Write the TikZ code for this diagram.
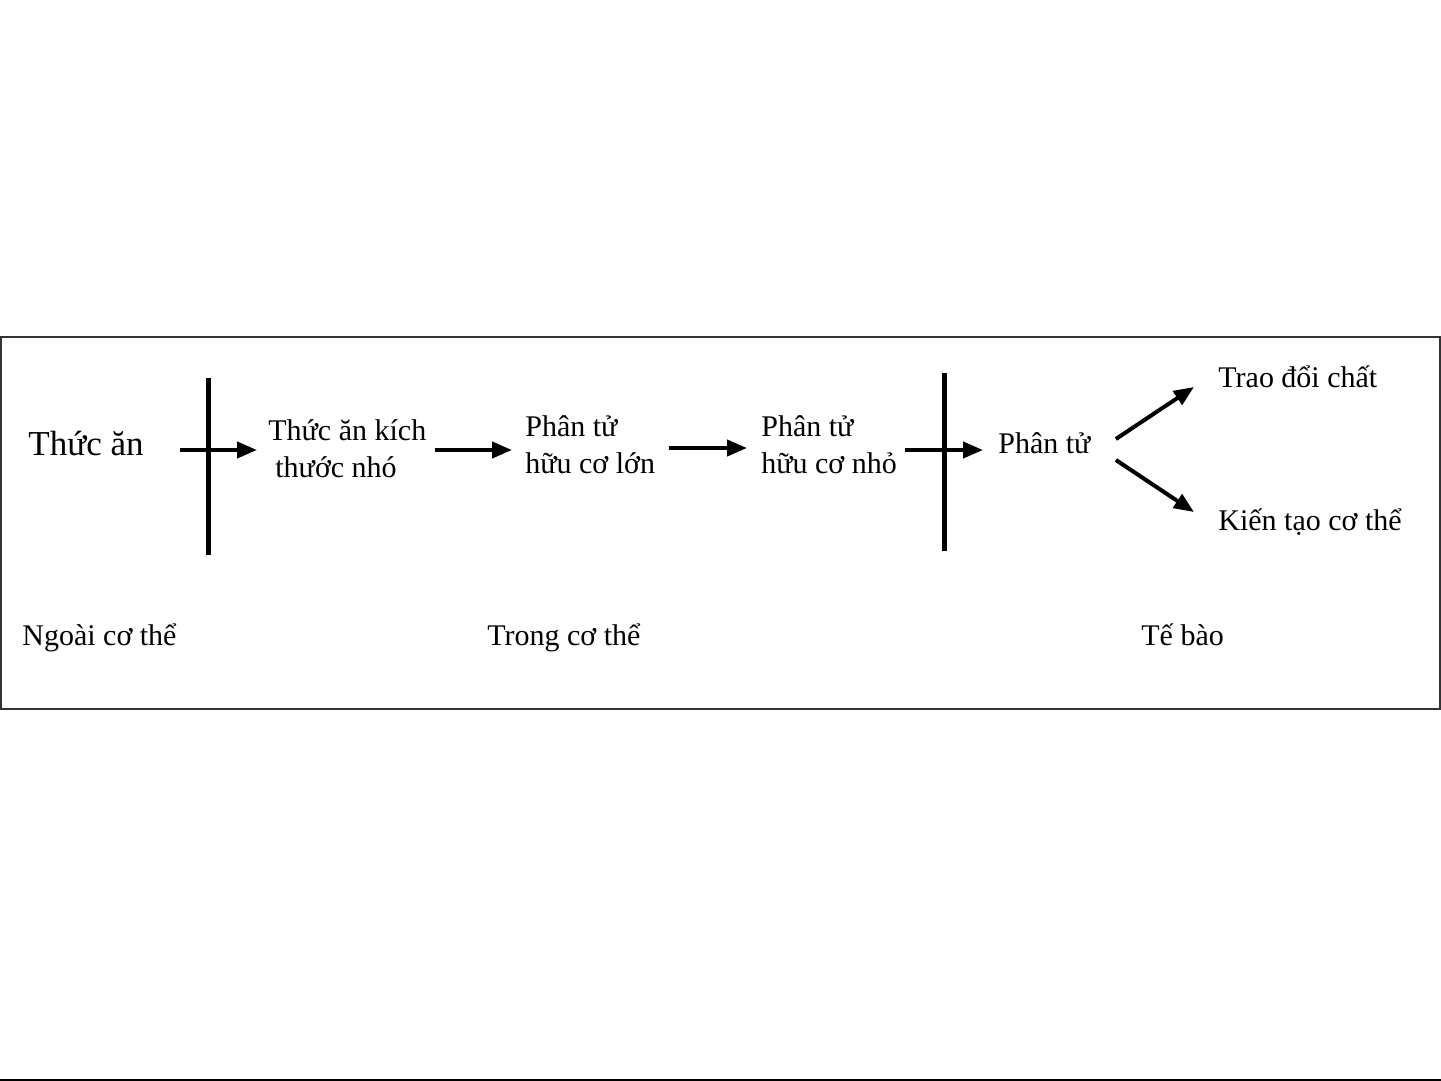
\documentclass[tikz,border=0pt]{standalone}
\usepackage{fontspec}
\setmainfont{Liberation Serif}
\usetikzlibrary{positioning, arrows.meta, calc}

\begin{document}
\begin{tikzpicture}[
    x=0.5pt, y=-0.5pt,
    every node/.style={
        inner sep=0pt,
        anchor=base west,
        align=left,
        font=\fontsize{15pt}{18.5pt}\selectfont
    },
    arrow/.style={-{Triangle[length=10pt,width=8pt]}, line width=2pt},
    wall/.style={line width=2.5pt}
]
    \useasboundingbox (0,0) rectangle (1441,1081);
    \draw[line width=1pt, black!80] (1,337) rectangle (1440,709);
    \draw[line width=1pt] (0,1080) -- (1441,1080);

    \node (food) at (28,455) [font=\fontsize{17.5pt}{21pt}\selectfont] {Thức ăn};
    \node (small) at (268,477) {Thức ăn kích\\\hspace*{3.5pt}thước nhó};
    \node (big) at (525,473) {Phân tử\\hữu cơ lớn};
    \node (smallmol) at (761,473) {Phân tử\\hữu cơ nhỏ};
    \node (mol) at (998,453) {Phân tử};
    \node (metab) at (1218,387) {Trao đổi chất};
    \node (build) at (1218,530) {Kiến tạo cơ thể};
    \node (outside) at (22,645) {Ngoài cơ thể};
    \node (inside) at (487,645) {Trong cơ thể};
    \node (cell) at (1141,645) {Tế bào};

    \draw[wall] (208,378) -- (208,555);
    \draw[wall] (944,373) -- (944,551);

    \coordinate (row) at (0,450);
    \draw[arrow, shorten <=18pt, shorten >=5.5pt] (food.east |- row) -- (small.west |- row);
    \draw[arrow, shorten <=4pt, shorten >=6.5pt] (small.east |- row) -- (big.west |- row);
    \draw[arrow, shorten <=7pt, shorten >=7pt] ([yshift=1pt]big.east |- row) -- ([yshift=1pt]smallmol.west |- row);
    \draw[arrow, shorten <=4pt, shorten >=7.5pt] (smallmol.east |- row) -- (mol.west |- row);
    \draw[arrow] ($(mol.base east)+(25,-14)$) -- ($(metab.base west)+(-24,0)$);
    \draw[arrow] ($(mol.base east)+(25,7)$) -- ($(build.base west)+(-24,-18)$);
\end{tikzpicture}
\end{document}
